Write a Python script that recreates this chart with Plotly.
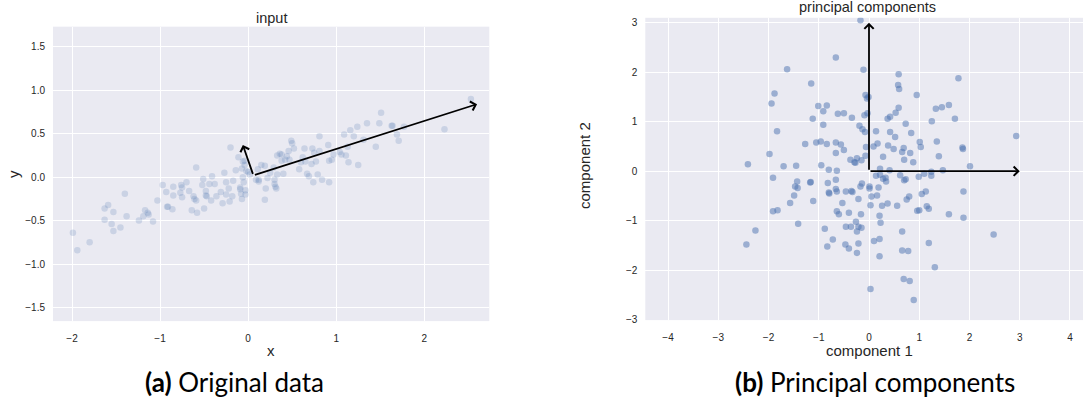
import plotly.graph_objects as go

# ---- data: original points ----
input_x = [-1.99,-1.94,-1.80,-1.63,-1.59,-1.63,-1.55,-1.53,-1.53,-1.45,-1.40,-1.38,-1.24,-1.19,-1.17,
           -1.14,-1.13,-1.08,-1.03,-0.97,-0.93,-0.92,-0.91,-0.85,-0.85,-0.86,-0.76,-0.77,-0.75,-0.75,
           -0.70,-0.67,-0.64,-0.62,-0.61,-0.59,-0.58,-0.59,-0.52,-0.51,-0.50,-0.48,-0.47,-0.48,-0.44,
           -0.42,-0.41,-0.38,-0.36,-0.31,-0.29,-0.27,-0.25,-0.25,-0.22,-0.21,-0.18,-0.20,-0.17,-0.14,
           -0.11,-0.09,-0.08,-0.07,-0.07,-0.06,-0.05,-0.03,-0.03,-0.06,-0.04,-0.02,0.11,0.09,0.12,
           -0.04,0.00,-0.09,0.02,
           0.15,0.19,0.12,0.20,0.19,0.22,0.25,0.29,0.30,0.30,0.31,0.32,0.33,0.33,0.36,0.38,0.38,
           0.40,0.42,0.44,0.46,0.49,0.50,0.52,0.47,0.58,0.60,0.62,0.64,0.67,0.65,0.69,0.72,0.73,
           0.74,0.75,0.77,0.79,0.81,0.81,0.84,0.91,0.92,0.92,0.95,0.97,1.04,1.06,1.09,1.11,1.13,
           1.14,1.16,1.20,1.24,1.25,1.31,1.35,1.45,1.49,1.51,1.63,1.64,1.69,1.71,1.77,2.23,2.53]
input_y = [-0.64,-0.84,-0.75,-0.36,-0.32,-0.49,-0.54,-0.62,-0.40,-0.58,-0.19,-0.45,-0.50,-0.45,-0.38,
           -0.41,-0.43,-0.51,-0.27,-0.09,-0.17,-0.34,-0.34,-0.11,-0.21,-0.37,-0.09,-0.18,-0.23,-0.12,
           -0.06,-0.16,-0.38,-0.22,-0.25,0.11,-0.41,-0.27,-0.09,-0.02,-0.36,-0.16,-0.22,-0.21,-0.08,
           -0.27,0.01,-0.08,-0.22,-0.17,-0.30,0.05,-0.06,-0.20,-0.13,-0.28,-0.22,0.34,-0.04,0.08,
           0.23,-0.12,-0.19,-0.25,0.10,0.18,-0.06,-0.15,-0.20,0.00,0.14,0.07,0.09,-0.03,-0.05,
           0.19,0.06,-0.14,0.03,
           0.14,0.13,-0.03,-0.13,-0.26,-0.01,0.05,0.11,-0.03,-0.08,-0.11,-0.13,0.03,0.25,0.27,0.19,0.26,
           0.04,0.20,0.24,0.30,0.42,0.39,0.33,0.20,0.09,0.17,0.23,0.33,0.04,0.18,0.01,0.15,0.33,
           -0.06,0.28,0.18,0.03,0.47,0.30,-0.03,0.37,0.19,-0.06,0.20,0.26,0.29,0.26,0.49,0.25,0.35,
           0.17,0.54,0.47,0.58,0.14,0.43,0.62,0.35,0.62,0.74,0.59,0.59,0.49,0.42,0.58,0.55,0.90]

# ---- data: projected points ----
pc_x = [-2.41,-2.44,-2.26,-1.63,-1.88,-1.94,-1.83,-1.98,-1.70,-1.45,-1.91,-1.91,-1.82,-1.57,-1.49,
        -1.47,-1.43,-1.42,-1.41,
        -0.17,-0.66,-0.11,0.59,1.78,-1.15,0.58,0.60,0.95,-0.07,-0.01,-0.04,-1.01,-0.84,-0.91,-0.62,
        -0.50,-0.34,-0.09,-0.03,0.59,0.53,0.42,0.37,1.33,1.45,1.59,1.71,1.25,-1.12,-0.91,0.73,
        -0.19,-0.13,-0.08,0.14,0.42,0.52,0.84,2.93,-1.27,-1.05,-0.96,-0.84,-0.66,-0.56,-0.50,-0.66,
        -0.06,0.09,0.17,0.38,0.49,0.69,0.66,0.82,1.01,1.03,1.35,1.39,1.86,1.87,-0.07,0.28,-0.37,
        -0.29,-0.27,-0.24,-0.15,0.70,0.88,-0.95,-0.80,-0.64,0.22,0.41,0.14,0.22,0.28,0.33,0.34,
        0.62,0.70,0.73,0.99,1.10,1.24,1.24,1.47,2.01,-1.17,-1.16,-0.82,-0.66,-0.80,-0.79,-0.66,
        -0.64,-0.46,-0.35,-0.33,-0.14,-0.17,0.01,0.01,0.19,0.05,0.16,-0.21,-1.11,-0.53,0.03,0.26,
        0.37,0.56,0.75,0.80,1.05,1.13,1.88,-0.64,-0.60,-0.40,-0.16,0.21,0.96,1.00,1.15,1.19,1.59,
        1.88,-0.26,-0.46,-0.36,-0.21,-0.15,-0.24,0.23,-0.88,0.66,2.48,-0.72,-0.83,-0.47,-0.40,
        -0.21,-0.24,0.10,0.21,0.21,0.66,0.78,1.19,1.31,0.69,0.81,0.03,0.89]
pc_y = [0.14,-1.48,-1.20,2.06,1.57,1.37,0.81,0.35,0.10,0.11,-0.13,-0.81,-0.79,-0.64,-0.49,
        -0.31,-0.21,-0.34,-1.06,
        3.05,2.30,2.05,1.96,1.88,1.77,1.74,1.66,1.54,1.54,1.50,1.47,1.32,1.33,1.21,1.16,
        1.17,1.08,1.13,1.17,1.28,1.18,1.10,1.06,1.26,1.29,1.34,1.06,1.01,1.06,0.94,0.96,
        0.92,0.85,0.79,0.81,0.79,0.69,0.77,0.71,0.55,0.58,0.60,0.55,0.58,0.54,0.43,0.37,
        0.49,0.50,0.56,0.52,0.45,0.47,0.39,0.37,0.59,0.49,0.60,0.30,0.48,0.45,0.31,0.29,0.23,
        0.18,0.17,0.26,0.22,0.23,0.18,0.12,0.03,0.01,0.05,0.02,-0.09,-0.07,-0.15,-0.13,-0.21,
        -0.08,-0.18,-0.16,-0.11,-0.05,-0.01,-0.09,0.02,0.10,-0.23,-0.22,-0.24,-0.17,-0.43,-0.45,-0.36,
        -0.41,-0.41,-0.40,-0.42,-0.25,-0.31,-0.31,-0.35,-0.33,-0.51,-0.49,-0.56,-0.60,-0.64,-0.69,-0.70,
        -0.65,-0.70,-0.57,-0.51,-0.46,-0.41,-0.41,-0.81,-0.87,-0.84,-0.87,-0.90,-0.80,-0.79,-0.71,-0.76,-0.87,
        -0.94,-1.02,-1.12,-1.12,-1.12,-1.14,-1.22,-1.04,-1.16,-1.22,-1.28,-1.38,-1.52,-1.48,-1.56,
        -1.46,-1.65,-1.41,-1.37,-1.72,-1.60,-1.61,-1.45,-1.94,-2.18,-2.22,-2.38,-2.60]

# ---- arrows (start -> end) ----
input_arrow_start = (0.06, 0.02)
input_arrow_ends = [(2.60, 0.84), (-0.06, 0.37)]
pc_arrow_start = (0.0, 0.0)
pc_arrow_ends = [(3.0, 0.0), (0.0, 3.0)]

# ---- tick values ----
input_xticks = [-2, -1, 0, 1, 2]
input_yticks = [-1.5, -1.0, -0.5, 0.0, 0.5, 1.0, 1.5]
pc_xticks = [-4, -3, -2, -1, 0, 1, 2, 3, 4]
pc_yticks = [-3, -2, -1, 0, 1, 2, 3]

BLUE = "#4C72B0"
TXT = "#262626"
FONT = "Arial, Liberation Sans, sans-serif"
W, H = 1083, 416

fig = go.Figure()
fig.add_trace(go.Scatter(x=input_x, y=input_y, mode="markers", xaxis="x", yaxis="y",
                         marker=dict(color=BLUE, size=6.5, opacity=0.2, line=dict(width=0)),
                         showlegend=False, hoverinfo="skip"))
fig.add_trace(go.Scatter(x=pc_x, y=pc_y, mode="markers", xaxis="x2", yaxis="y2",
                         marker=dict(color=BLUE, size=6.5, opacity=0.5, line=dict(width=0)),
                         showlegend=False, hoverinfo="skip"))

ann = []
for (ex, ey) in input_arrow_ends:
    ann.append(dict(x=ex, y=ey, ax=input_arrow_start[0], ay=input_arrow_start[1],
                    xref="x", yref="y", axref="x", ayref="y", text="", showarrow=True,
                    arrowhead=4, arrowsize=1, arrowwidth=1.8, arrowcolor="black"))
for (ex, ey) in pc_arrow_ends:
    ann.append(dict(x=ex, y=ey, ax=pc_arrow_start[0], ay=pc_arrow_start[1],
                    xref="x2", yref="y2", axref="x2", ayref="y2", text="", showarrow=True,
                    arrowhead=4, arrowsize=1, arrowwidth=1.8, arrowcolor="black"))

def txt(s, px, py, size, angle=0, family=FONT, color=TXT):
    return dict(text=s, x=px / W, y=1 - py / H, xref="paper", yref="paper",
                xanchor="center", yanchor="middle", showarrow=False, textangle=angle,
                font=dict(family=family, size=size, color=color))

ann += [
    txt("input", 271, 18, 14.5),
    txt("principal components", 867, 7.5, 14.5),
    txt("x", 271, 355, 15),
    txt("y", 14, 176, 15, angle=-90),
    txt("component 1", 869, 355, 15),
    txt("component 2", 585, 168, 15, angle=-90),
    txt("<b>(a)</b> Original data", 234, 387, 26, family="Lato", color="black"),
    txt("<b>(b)</b> Principal components", 875, 387, 26, family="Lato", color="black"),
]

axis_common = dict(showgrid=True, gridcolor="white", gridwidth=1, zeroline=False, showline=False,
                   ticks="", tickfont=dict(family=FONT, size=10, color=TXT))

fig.update_layout(
    width=W, height=H, autosize=False,
    margin=dict(l=0, r=0, t=0, b=0),
    paper_bgcolor="white", plot_bgcolor="#EAEAF2",
    font=dict(family=FONT),
    xaxis=dict(domain=[53 / W, 489.3 / W], range=[-2.216, 2.739], tickvals=input_xticks,
               anchor="y", ticklabelstandoff=10, **axis_common),
    yaxis=dict(domain=[1 - 325 / H, 1 - 27 / H], range=[-1.656, 1.731], tickvals=input_yticks,
               tickformat=".1f", anchor="x", ticklabelstandoff=7, **axis_common),
    xaxis2=dict(domain=[645.3 / W, 1.0], range=[-4.452, 4.259], tickvals=pc_xticks,
                anchor="y2", ticklabelstandoff=10, **axis_common),
    yaxis2=dict(domain=[1 - 324 / H, 1 - 18 / H], range=[-3.008, 3.10], tickvals=pc_yticks,
                anchor="x2", ticklabelstandoff=7, **axis_common),
    annotations=ann,
)

fig.write_html("out.html", config={"displayModeBar": False},
               post_script="document.body.style.margin='0';document.body.style.padding='0';"
                           "document.body.style.overflow='hidden';")
